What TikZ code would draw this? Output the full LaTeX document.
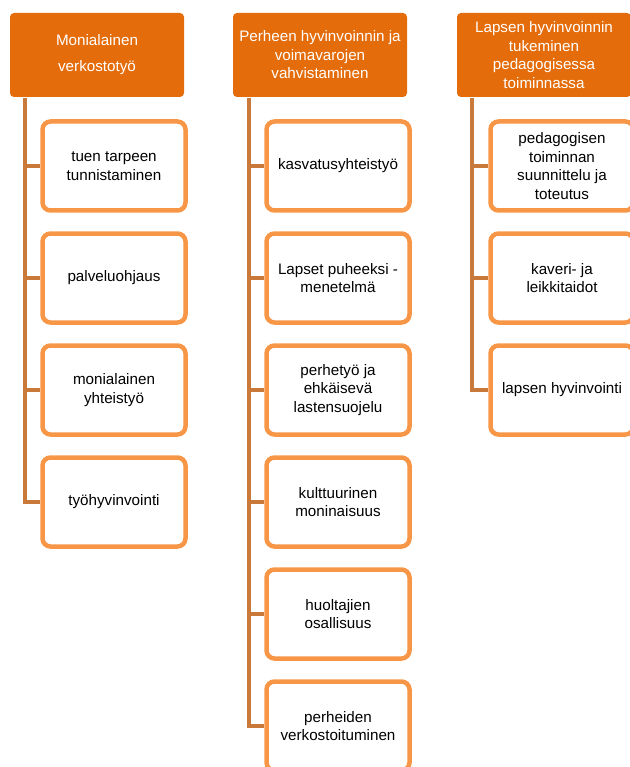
\documentclass[tikz,border=0pt]{standalone}
\usepackage{fontspec}
\setmainfont{Liberation Sans}
\usetikzlibrary{backgrounds}
\definecolor{headorange}{RGB}{228,108,10}
\definecolor{boxorange}{RGB}{247,150,70}
\definecolor{linkbrown}{RGB}{201,122,58}
\tikzset{
  head/.style={fill=headorange, text=white, rounded corners=4pt, minimum width=174pt,
    minimum height=84pt, align=center, inner sep=2pt, font=\fontsize{15.2}{18.5}\selectfont},
  item/.style={draw=boxorange, fill=white, line width=4.5pt, rounded corners=8pt,
    minimum width=143pt, minimum height=89pt, align=center, inner sep=2pt,
    font=\fontsize{15.2}{18.5}\selectfont},
  link/.style={draw=linkbrown, line width=4.5pt}
}
\begin{document}
\begin{tikzpicture}[x=1pt,y=-1pt]
        \useasboundingbox (0,0) rectangle (629,767);
        % otsikot
        \node[head, font=\fontsize{15.2}{26}\selectfont] (h1) at (97,55) {Monialainen\\verkostotyö};
        \node[head] (h2) at (320,55) {Perheen hyvinvoinnin ja\\voimavarojen\\vahvistaminen};
        \node[head] (h3) at (544,55) {Lapsen hyvinvoinnin\\tukeminen\\pedagogisessa\\toiminnassa};

        % alakohdat
        \node[item] (a1) at (114,166) {tuen tarpeen\\tunnistaminen};
        \node[item] (a2) at (114,278) {palveluohjaus};
        \node[item] (a3) at (114,390) {monialainen\\yhteistyö};
        \node[item] (a4) at (114,502) {työhyvinvointi};

        \node[item] (b1) at (338,166) {kasvatusyhteistyö};
        \node[item] (b2) at (338,278) {Lapset puheeksi -\\menetelmä};
        \node[item] (b3) at (338,390) {perhetyö ja\\ehkäisevä\\lastensuojelu};
        \node[item] (b4) at (338,502) {kulttuurinen\\moninaisuus};
        \node[item] (b5) at (338,614) {huoltajien\\osallisuus};
        \node[item] (b6) at (338,726) {perheiden\\verkostoituminen};

        \node[item] (c1) at (562,166) {pedagogisen\\toiminnan\\suunnittelu ja\\toteutus};
        \node[item] (c2) at (562,278) {kaveri- ja\\leikkitaidot};
        \node[item] (c3) at (562,390) {lapsen hyvinvointi};

        % yhteysviivat
        \coordinate (t1) at (25,98);
        \coordinate (t2) at (249,98);
        \coordinate (t3) at (472,98);
        \begin{scope}[on background layer]
          \foreach \i in {1,...,4} \draw[link] (t1) |- (a\i.west);
          \foreach \i in {1,...,6} \draw[link] (t2) |- (b\i.west);
          \foreach \i in {1,...,3} \draw[link] (t3) |- (c\i.west);
        \end{scope}
\end{tikzpicture}
\end{document}
